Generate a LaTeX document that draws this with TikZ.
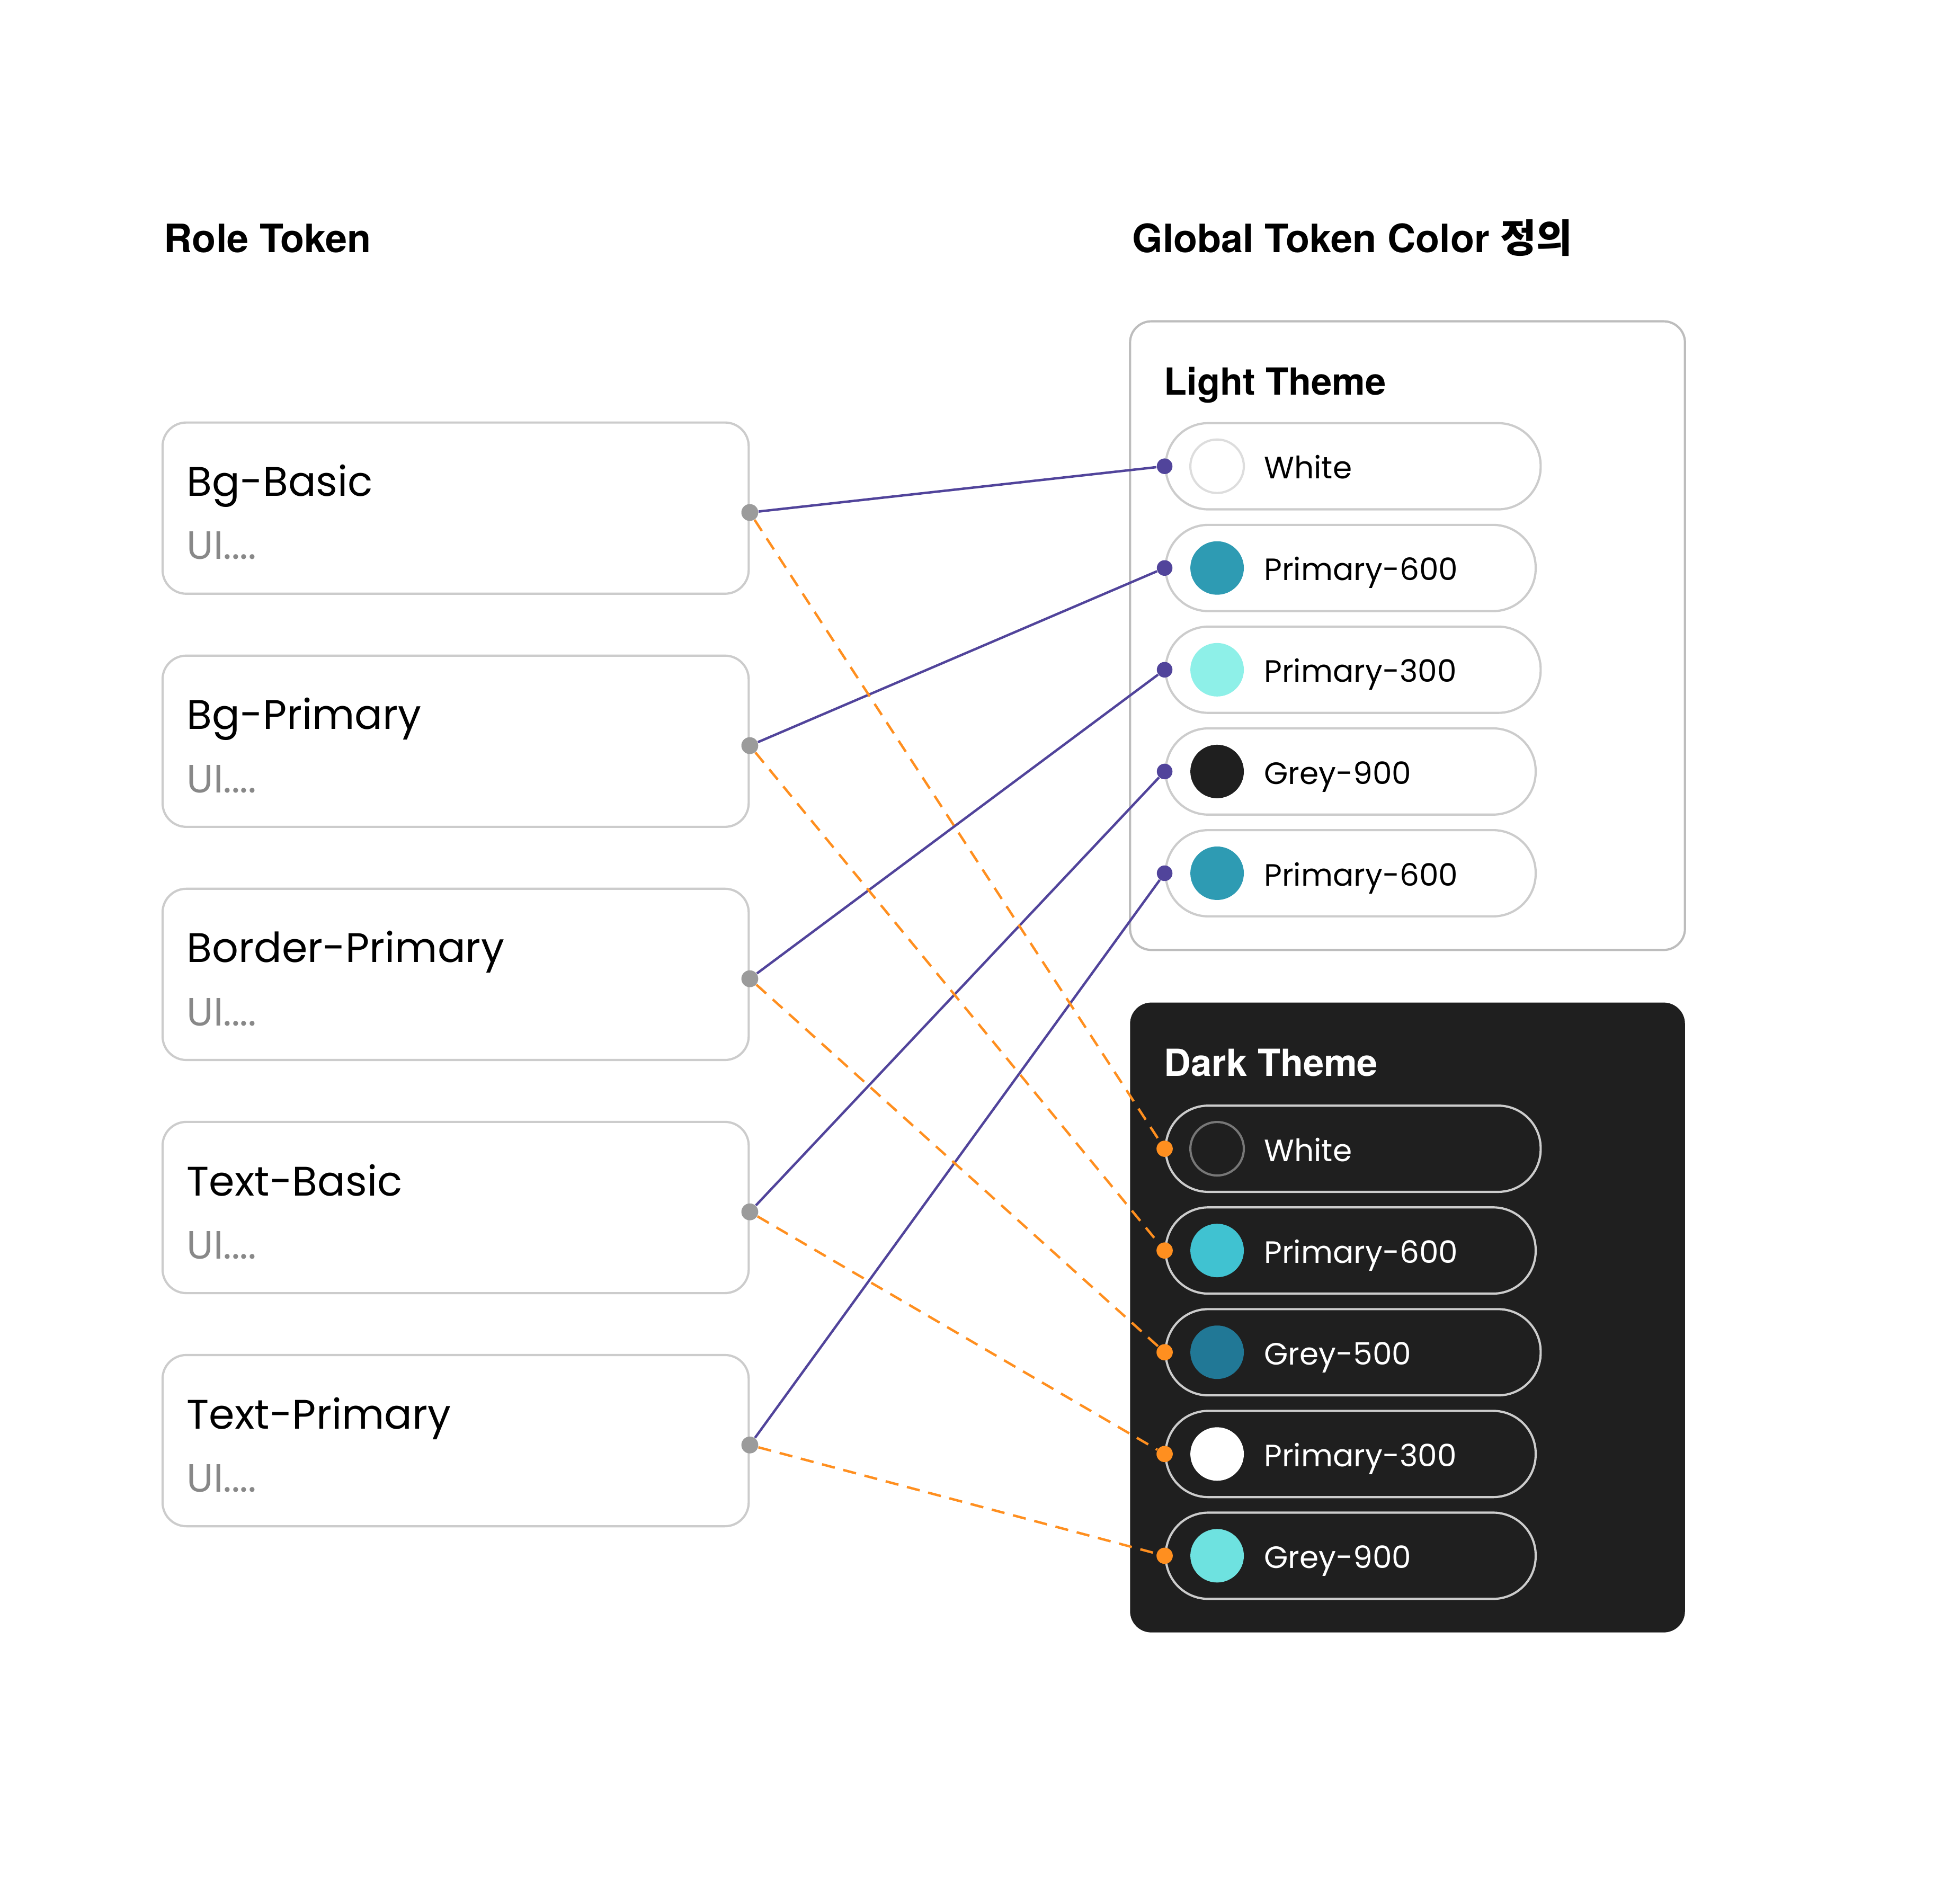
\documentclass[tikz,border=0pt]{standalone}
\usepackage{fontspec}
\setmainfont{Poppins}
\newfontfamily\headfont{TeX Gyre Heros}
\newfontfamily\krfont{Noto Sans CJK KR}
\usepackage{tikz}
\usetikzlibrary{positioning,calc}
\definecolor{tokenpurple}{HTML}{51449B}
\definecolor{tokenorange}{HTML}{FF8F1F}
\definecolor{dotgrey}{HTML}{9B9B9B}
\definecolor{boxline}{HTML}{CCCCCC}
\definecolor{panelline}{HTML}{BDBDBD}
\definecolor{subgrey}{HTML}{888888}
\definecolor{darkpanel}{HTML}{1F1F1F}
\definecolor{swatchline}{HTML}{DDDDDD}
\definecolor{darkswatchline}{HTML}{777777}
\definecolor{lightpsix}{HTML}{2E9BB3}
\definecolor{lightpthree}{HTML}{8EF0E8}
\definecolor{lightgnine}{HTML}{1F1F1F}
\definecolor{darkpsix}{HTML}{40C2D1}
\definecolor{darkgfive}{HTML}{217896}
\definecolor{darkgnine}{HTML}{6EE2E0}

\begin{document}
\begin{tikzpicture}[x=0.02cm, y=-0.02cm,
    rolebox/.style={draw=boxline, line width=1pt, fill=white, rounded corners=0.38cm, minimum width=9.38cm, minimum height=2.74cm, inner sep=0pt},
    roletitle/.style={anchor=base west, inner sep=0pt, font=\fontsize{18.8}{22}\selectfont},
    rolesub/.style={anchor=base west, inner sep=0pt, text=subgrey, font=\fontsize{18}{21}\selectfont},
    heading/.style={anchor=base west, inner sep=0pt, font=\headfont\bfseries\fontsize{17.8}{21}\selectfont},
    themehead/.style={anchor=base west, inner sep=0pt, font=\headfont\bfseries\fontsize{17}{20}\selectfont},
    panel/.style={rounded corners=0.34cm, line width=1pt, minimum width=8.88cm, inner sep=0pt},
    pill/.style={draw=boxline, line width=1pt, rounded corners=0.68cm, minimum height=1.38cm, inner sep=0pt, anchor=west},
    swatch/.style={circle, line width=1pt, minimum size=0.856cm, inner sep=0pt},
    pilltext/.style={inner sep=0pt, text height=11.4pt, text depth=0pt, font=\fontsize{14.05}{17}\selectfont},
    outdot/.style={circle, fill=dotgrey, minimum size=0.27cm, inner sep=0pt},
    lightdot/.style={circle, fill=tokenpurple, minimum size=0.25cm, inner sep=0pt},
    darkdot/.style={circle, fill=tokenorange, minimum size=0.26cm, inner sep=0pt},
    lightlink/.style={draw=tokenpurple, line width=1.1pt},
    darklink/.style={draw=tokenorange, line width=1.1pt, dash pattern=on 6pt off 4pt}]

    \fill [white] (0,0) rectangle (1568,1503.6);
    \useasboundingbox (0,0) rectangle (1568,1503.6);

    % headings
    \node [heading] (roleHead) at (131,202) {Role Token};
    \node [heading] (globalHead) at (905.6,202) {Global Token Color \krfont 정의};

    % role tokens
    \node [rolebox] (bgBasic) at (364.5,406.5) {};
    \node [roletitle] (bgBasicTitle) at ($(bgBasic.west)+(20,-9.5)$) {Bg-Basic};
    \node [rolesub] (bgBasicSub) at ($(bgBasic.west)+(20,41)$) {UI....};
    \node [rolebox] (bgPrimary) at (364.5,593) {};
    \node [roletitle] (bgPrimaryTitle) at ($(bgPrimary.west)+(20,-9.5)$) {Bg-Primary};
    \node [rolesub] (bgPrimarySub) at ($(bgPrimary.west)+(20,41)$) {UI....};
    \node [rolebox] (borderPrimary) at (364.5,779.5) {};
    \node [roletitle] (borderPrimaryTitle) at ($(borderPrimary.west)+(20,-9.5)$) {Border-Primary};
    \node [rolesub] (borderPrimarySub) at ($(borderPrimary.west)+(20,41)$) {UI....};
    \node [rolebox] (textBasic) at (364.5,966) {};
    \node [roletitle] (textBasicTitle) at ($(textBasic.west)+(20,-9.5)$) {Text-Basic};
    \node [rolesub] (textBasicSub) at ($(textBasic.west)+(20,41)$) {UI....};
    \node [rolebox] (textPrimary) at (364.5,1152.5) {};
    \node [roletitle] (textPrimaryTitle) at ($(textPrimary.west)+(20,-9.5)$) {Text-Primary};
    \node [rolesub] (textPrimarySub) at ($(textPrimary.west)+(20,41)$) {UI....};

    \node [outdot] (bgBasicOut) at ($(bgBasic.east)+(0,3.5)$) {};
    \node [outdot] (bgPrimaryOut) at ($(bgPrimary.east)+(0,3.5)$) {};
    \node [outdot] (borderPrimaryOut) at ($(borderPrimary.east)+(0,3.5)$) {};
    \node [outdot] (textBasicOut) at ($(textBasic.east)+(0,3.5)$) {};
    \node [outdot] (textPrimaryOut) at ($(textPrimary.east)+(0,3.5)$) {};

    % light theme
    \node [panel, draw=panelline, fill=white, minimum height=10.06cm] (lightPanel) at (1126,508.5) {};
    \node [themehead, text=black] (lightHead) at (931,315.9) {Light Theme};

    \node [pill, fill=white, minimum width=6cm] (lightWhite) at (931.7,373) {};
    \node [swatch, fill=white, draw=swatchline, right=0.394cm of lightWhite.west] (lightWhiteSw) {};
    \node [pilltext, right=0.3cm of lightWhiteSw] {White};
    \node [pill, fill=white, minimum width=5.92cm] (lightPsix) at (931.7,454.4) {};
    \node [swatch, fill=lightpsix, right=0.394cm of lightPsix.west] (lightPsixSw) {};
    \node [pilltext, right=0.3cm of lightPsixSw] {Primary-600};
    \node [pill, fill=white, minimum width=6cm] (lightPthree) at (931.7,535.8) {};
    \node [swatch, fill=lightpthree, right=0.394cm of lightPthree.west] (lightPthreeSw) {};
    \node [pilltext, right=0.3cm of lightPthreeSw] {Primary-300};
    \node [pill, fill=white, minimum width=5.92cm] (lightGnine) at (931.7,617.2) {};
    \node [swatch, fill=lightgnine, right=0.394cm of lightGnine.west] (lightGnineSw) {};
    \node [pilltext, right=0.3cm of lightGnineSw] {Grey-900};
    \node [pill, fill=white, minimum width=5.92cm] (lightPsixB) at (931.7,698.6) {};
    \node [swatch, fill=lightpsix, right=0.394cm of lightPsixB.west] (lightPsixBSw) {};
    \node [pilltext, right=0.3cm of lightPsixBSw] {Primary-600};

    % dark theme
    \node [panel, fill=darkpanel, minimum height=10.08cm] (darkPanel) at (1126,1054) {};
    \node [themehead, text=white] (darkHead) at (931,860.9) {Dark Theme};

    \node [pill, minimum width=6cm] (darkWhite) at (931.7,919) {};
    \node [swatch, fill=darkpanel, draw=darkswatchline, right=0.394cm of darkWhite.west] (darkWhiteSw) {};
    \node [pilltext, text=white, right=0.3cm of darkWhiteSw] {White};
    \node [pill, minimum width=5.92cm] (darkPsix) at (931.7,1000.4) {};
    \node [swatch, fill=darkpsix, right=0.394cm of darkPsix.west] (darkPsixSw) {};
    \node [pilltext, text=white, right=0.3cm of darkPsixSw] {Primary-600};
    \node [pill, minimum width=6cm] (darkGfive) at (931.7,1081.8) {};
    \node [swatch, fill=darkgfive, right=0.394cm of darkGfive.west] (darkGfiveSw) {};
    \node [pilltext, text=white, right=0.3cm of darkGfiveSw] {Grey-500};
    \node [pill, minimum width=5.92cm] (darkPthree) at (931.7,1163.2) {};
    \node [swatch, fill=white, right=0.394cm of darkPthree.west] (darkPthreeSw) {};
    \node [pilltext, text=white, right=0.3cm of darkPthreeSw] {Primary-300};
    \node [pill, minimum width=5.92cm] (darkGnine) at (931.7,1244.6) {};
    \node [swatch, fill=darkgnine, right=0.394cm of darkGnine.west] (darkGnineSw) {};
    \node [pilltext, text=white, right=0.3cm of darkGnineSw] {Grey-900};

    % inputs
    \node [lightdot] (lightWhiteIn) at (lightWhite.west) {};
    \node [lightdot] (lightPsixIn) at (lightPsix.west) {};
    \node [lightdot] (lightPthreeIn) at (lightPthree.west) {};
    \node [lightdot] (lightGnineIn) at (lightGnine.west) {};
    \node [lightdot] (lightPsixBIn) at (lightPsixB.west) {};
    \node [darkdot] (darkWhiteIn) at (darkWhite.west) {};
    \node [darkdot] (darkPsixIn) at (darkPsix.west) {};
    \node [darkdot] (darkGfiveIn) at (darkGfive.west) {};
    \node [darkdot] (darkPthreeIn) at (darkPthree.west) {};
    \node [darkdot] (darkGnineIn) at (darkGnine.west) {};

    % mappings
    \draw [lightlink] (bgBasicOut) -- (lightWhiteIn);
    \draw [lightlink] (bgPrimaryOut) -- (lightPsixIn);
    \draw [lightlink] (borderPrimaryOut) -- (lightPthreeIn);
    \draw [lightlink] (textBasicOut) -- (lightGnineIn);
    \draw [lightlink] (textPrimaryOut) -- (lightPsixBIn);
    \draw [darklink] (bgBasicOut) -- (darkWhiteIn);
    \draw [darklink] (bgPrimaryOut) -- (darkPsixIn);
    \draw [darklink] (borderPrimaryOut) -- (darkGfiveIn);
    \draw [darklink] (textBasicOut) -- (darkPthreeIn);
    \draw [darklink] (textPrimaryOut) -- (darkGnineIn);
\end{tikzpicture}
\end{document}
